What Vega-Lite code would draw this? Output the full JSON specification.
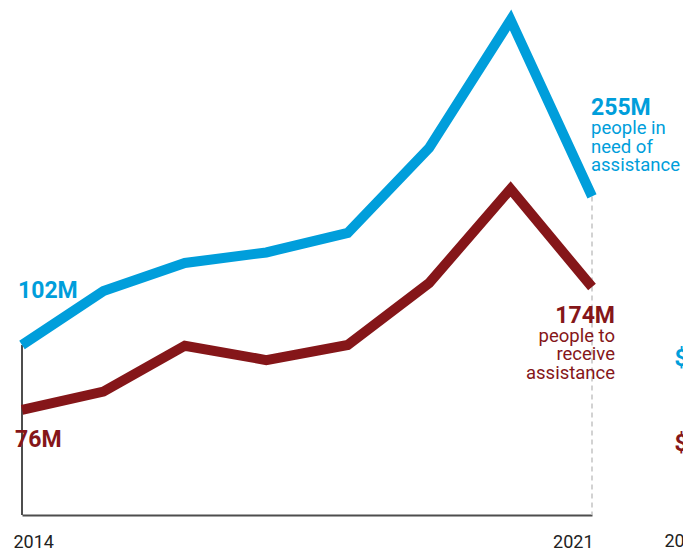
{
  "$schema": "https://vega.github.io/schema/vega-lite/v6.json",
  "width": 570,
  "height": 515,
  "autosize": {"type": "none"},
  "padding": {"left": 22, "top": 0, "right": 91, "bottom": 38},
  "background": "white",
  "config": {"view": {"stroke": null}, "text": {"font": "Roboto"}, "axis": {"labelFont": "Roboto"}},
  "datasets": {
    "need": [
      {"year": 2014, "value": 102, "label": "102M"},
      {"year": 2015, "value": 157.6},
      {"year": 2016, "value": 186.5},
      {"year": 2017, "value": 197.3},
      {"year": 2018, "value": 217.4},
      {"year": 2019, "value": 304.9},
      {"year": 2020, "value": 436.8},
      {"year": 2021, "value": 255, "label": "255M", "note": "people in\nneed of\nassistance"}
    ],
    "receive": [
      {"year": 2014, "value": 76, "label": "76M"},
      {"year": 2015, "value": 90.7},
      {"year": 2016, "value": 127.2},
      {"year": 2017, "value": 115.8},
      {"year": 2018, "value": 127.8},
      {"year": 2019, "value": 177.2},
      {"year": 2020, "value": 252.1},
      {"year": 2021, "value": 174, "label": "174M", "note": "people to\nreceive\nassistance"}
    ]
  },
  "encoding": {
    "x": {
      "field": "year",
      "type": "quantitative",
      "scale": {"domain": [2014, 2021], "nice": false, "zero": false},
      "axis": {
        "values": [2014, 2021],
        "format": "d",
        "title": null,
        "grid": false,
        "ticks": false,
        "tickSize": 0,
        "domain": true,
        "domainColor": "#4d4d4d",
        "domainWidth": 2,
        "labelFontSize": 18,
        "labelColor": "#222222",
        "labelBaseline": "alphabetic",
        "labelPadding": 32,
        "labelFlush": false,
        "labelOverlap": false,
        "labelAlign": {"condition": {"test": "datum.value == 2014", "value": "left"}, "value": "right"},
        "labelOffset": {"condition": {"test": "datum.value == 2014", "value": -9}, "value": 1}
      }
    }
  },
  "layer": [
    {
      "data": {"name": "need"},
      "encoding": {
        "y": {"field": "value", "type": "quantitative", "scale": {"domain": [-73.1, 457.35], "nice": false, "zero": false}, "axis": null}
      },
      "layer": [
        {
          "transform": [{"filter": "datum.year == 2014"}],
          "mark": {"type": "rule", "color": "#4d4d4d", "strokeWidth": 2},
          "encoding": {"y2": {"datum": -73.1}}
        },
        {
          "transform": [{"filter": "datum.year == 2021"}],
          "mark": {"type": "rule", "color": "#c4c4c4", "strokeWidth": 1.5, "strokeDash": [5, 4]},
          "encoding": {"y2": {"datum": -73.1}}
        },
        {
          "mark": {"type": "line", "color": "#009edb", "strokeWidth": 10, "strokeCap": "butt", "strokeJoin": "miter", "strokeMiterLimit": 10},
          "encoding": {}
        },
        {
          "transform": [{"filter": "datum.year == 2014"}],
          "mark": {"type": "text", "align": "left", "baseline": "alphabetic", "dx": -4, "dy": -47, "fontSize": 23, "fontWeight": "bold", "color": "#009edb"},
          "encoding": {"text": {"field": "label"}}
        },
        {
          "transform": [{"filter": "datum.year == 2021"}],
          "mark": {"type": "text", "align": "left", "baseline": "alphabetic", "dx": -1, "dy": -81, "fontSize": 23, "fontWeight": "bold", "color": "#009edb"},
          "encoding": {"text": {"field": "label"}}
        },
        {
          "transform": [{"filter": "datum.year == 2021"}],
          "mark": {"type": "text", "align": "left", "baseline": "alphabetic", "dx": -1, "dy": -62, "fontSize": 18.5, "lineHeight": 18.5, "lineBreak": "\n", "color": "#009edb"},
          "encoding": {"text": {"field": "note"}}
        },
        {
          "transform": [{"filter": "datum.year == 2014"}],
          "mark": {"type": "text", "align": "left", "baseline": "alphabetic", "dx": 1, "dy": 21, "fontSize": 23, "fontWeight": "bold", "color": "#009edb"},
          "encoding": {"x": {"datum": 2022}, "text": {"value": "$"}}
        },
        {
          "transform": [{"filter": "datum.year == 2014"}],
          "mark": {"type": "text", "align": "left", "baseline": "alphabetic", "dx": -9, "dy": 32, "fontSize": 18, "color": "#222222"},
          "encoding": {"x": {"datum": 2022}, "y": {"datum": -73.1}, "text": {"field": "year", "type": "quantitative", "format": "d"}}
        }
      ]
    },
    {
      "data": {"name": "receive"},
      "encoding": {
        "y": {"field": "value", "type": "quantitative", "scale": {"domain": [-7.7, 402.8], "nice": false, "zero": false}, "axis": null}
      },
      "layer": [
        {
          "mark": {"type": "line", "color": "#851619", "strokeWidth": 10, "strokeCap": "butt", "strokeJoin": "miter", "strokeMiterLimit": 10},
          "encoding": {}
        },
        {
          "transform": [{"filter": "datum.year == 2014"}],
          "mark": {"type": "text", "align": "left", "baseline": "alphabetic", "dx": -7, "dy": 36.7, "fontSize": 23, "fontWeight": "bold", "color": "#851619"},
          "encoding": {"text": {"field": "label"}}
        },
        {
          "transform": [{"filter": "datum.year == 2021"}],
          "mark": {"type": "text", "align": "right", "baseline": "alphabetic", "dx": 23, "dy": 35.7, "fontSize": 23, "fontWeight": "bold", "color": "#851619"},
          "encoding": {"text": {"field": "label"}}
        },
        {
          "transform": [{"filter": "datum.year == 2021"}],
          "mark": {"type": "text", "align": "right", "baseline": "alphabetic", "dx": 23, "dy": 54.7, "fontSize": 18.5, "lineHeight": 18.5, "lineBreak": "\n", "color": "#851619"},
          "encoding": {"text": {"field": "note"}}
        },
        {
          "transform": [{"filter": "datum.year == 2014"}],
          "mark": {"type": "text", "align": "left", "baseline": "alphabetic", "dx": 1, "dy": 41, "fontSize": 23, "fontWeight": "bold", "color": "#851619"},
          "encoding": {"x": {"datum": 2022}, "text": {"value": "$"}}
        }
      ]
    }
  ],
  "resolve": {"scale": {"y": "independent"}}
}
